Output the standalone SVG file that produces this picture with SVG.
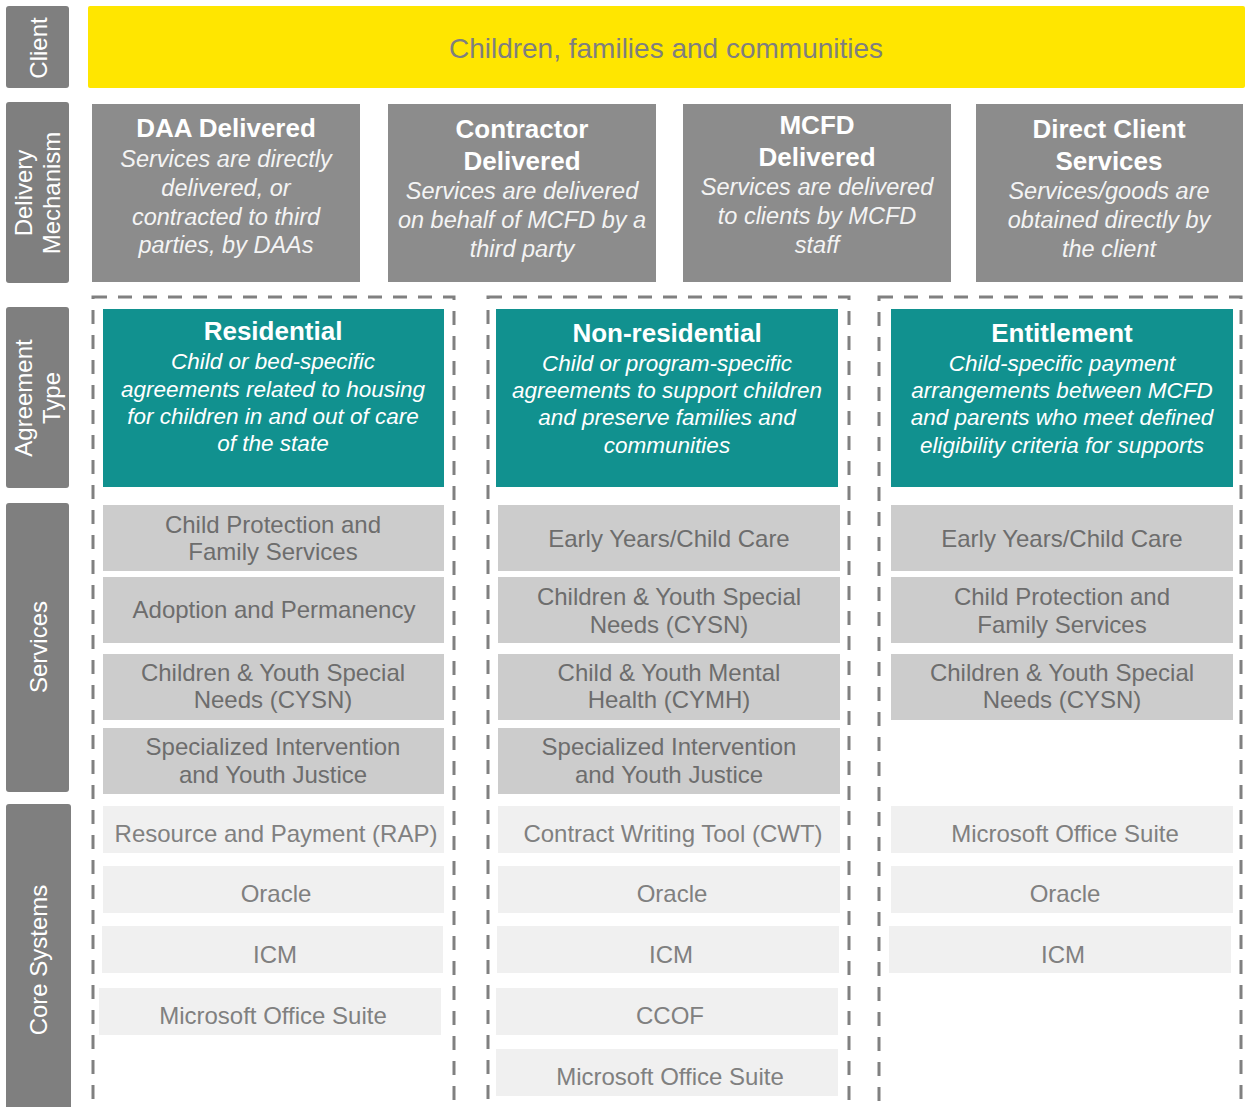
<svg xmlns="http://www.w3.org/2000/svg" width="1248" height="1107" viewBox="0 0 1248 1107">
  <style>
    text { font-family: "Liberation Sans", Arial, sans-serif; text-anchor: middle; }
    .lane { fill: #7f7f7f; }
    .laneText { fill: #ffffff; font-size: 24px; }
    .client { fill: #ffe600; }
    .clientText { fill: #7f7f7f; font-size: 28px; }
    .mech { fill: #8c8c8c; }
    .mechTitle { fill: #ffffff; font-size: 26px; font-weight: bold; }
    .mechDesc { fill: #f4f4f4; font-size: 23.5px; font-style: italic; }
    .group { fill: none; stroke: #808080; stroke-width: 3; stroke-dasharray: 14 11; }
    .agree { fill: #11918f; }
    .agreeTitle { fill: #ffffff; font-size: 26px; font-weight: bold; }
    .agreeDesc { fill: #ffffff; font-size: 22.5px; font-style: italic; }
    .svc { fill: #cccccc; }
    .svcText { fill: #6d6d6d; font-size: 24px; }
    .sys { fill: #f0f0f0; }
    .sysText { fill: #808080; font-size: 24px; }
  </style>

  <!-- Row labels -->
  <g id="lane-client">
    <rect class="lane" x="6" y="6" width="63" height="82" rx="3"/>
    <text class="laneText" transform="translate(47,48) rotate(-90)">Client</text>
  </g>
  <g id="lane-delivery">
    <rect class="lane" x="6" y="102" width="63" height="181" rx="3"/>
    <text class="laneText" transform="translate(32,193) rotate(-90)">Delivery</text>
    <text class="laneText" transform="translate(60,193) rotate(-90)">Mechanism</text>
  </g>
  <g id="lane-agreement">
    <rect class="lane" x="6" y="307" width="63" height="181" rx="3"/>
    <text class="laneText" transform="translate(32,398) rotate(-90)">Agreement</text>
    <text class="laneText" transform="translate(60,398) rotate(-90)">Type</text>
  </g>
  <g id="lane-services">
    <rect class="lane" x="6" y="503" width="63" height="289" rx="3"/>
    <text class="laneText" transform="translate(47,647) rotate(-90)">Services</text>
  </g>
  <g id="lane-systems">
    <rect class="lane" x="6" y="804" width="65" height="310" rx="3"/>
    <text class="laneText" transform="translate(47,960) rotate(-90)">Core Systems</text>
  </g>

  <!-- Client banner -->
  <g id="client">
    <rect class="client" x="88" y="6" width="1157" height="82" rx="2"/>
    <text class="clientText" x="666" y="58">Children, families and communities</text>
  </g>

  <!-- Delivery mechanisms -->
  <g id="mech-daa">
    <rect class="mech" x="92" y="104" width="268" height="178"/>
    <text class="mechTitle" x="226" y="137">DAA Delivered</text>
    <text class="mechDesc" x="226" y="167">Services are directly</text>
    <text class="mechDesc" x="226" y="196">delivered, or</text>
    <text class="mechDesc" x="226" y="225">contracted to third</text>
    <text class="mechDesc" x="226" y="253">parties, by DAAs</text>
  </g>
  <g id="mech-contractor">
    <rect class="mech" x="388" y="104" width="268" height="178"/>
    <text class="mechTitle" x="522" y="138">Contractor</text>
    <text class="mechTitle" x="522" y="170">Delivered</text>
    <text class="mechDesc" x="522" y="199">Services are delivered</text>
    <text class="mechDesc" x="522" y="228">on behalf of MCFD by a</text>
    <text class="mechDesc" x="522" y="257">third party</text>
  </g>
  <g id="mech-mcfd">
    <rect class="mech" x="683" y="104" width="268" height="178"/>
    <text class="mechTitle" x="817" y="134">MCFD</text>
    <text class="mechTitle" x="817" y="166">Delivered</text>
    <text class="mechDesc" x="817" y="195">Services are delivered</text>
    <text class="mechDesc" x="817" y="224">to clients by MCFD</text>
    <text class="mechDesc" x="817" y="253">staff</text>
  </g>
  <g id="mech-direct">
    <rect class="mech" x="976" y="104" width="267" height="178"/>
    <text class="mechTitle" x="1109" y="138">Direct Client</text>
    <text class="mechTitle" x="1109" y="170">Services</text>
    <text class="mechDesc" x="1109" y="199">Services/goods are</text>
    <text class="mechDesc" x="1109" y="228">obtained directly by</text>
    <text class="mechDesc" x="1109" y="257">the client</text>
  </g>

  <!-- Residential column -->
  <g id="col-residential">
    <rect class="group" x="93" y="297" width="361" height="840"/>
    <rect class="agree" x="103" y="309" width="341" height="178"/>
    <text class="agreeTitle" x="273" y="340">Residential</text>
    <text class="agreeDesc" x="273" y="369">Child or bed-specific</text>
    <text class="agreeDesc" x="273" y="397">agreements related to housing</text>
    <text class="agreeDesc" x="273" y="424">for children in and out of care</text>
    <text class="agreeDesc" x="273" y="451">of the state</text>

    <rect class="svc" x="103" y="505" width="341" height="66"/>
    <text class="svcText" x="273" y="533">Child Protection and</text>
    <text class="svcText" x="273" y="560">Family Services</text>
    <rect class="svc" x="103" y="577" width="341" height="66"/>
    <text class="svcText" x="274" y="618">Adoption and Permanency</text>
    <rect class="svc" x="103" y="654" width="341" height="66"/>
    <text class="svcText" x="273" y="681">Children &amp; Youth Special</text>
    <text class="svcText" x="273" y="708">Needs (CYSN)</text>
    <rect class="svc" x="103" y="728" width="341" height="66"/>
    <text class="svcText" x="273" y="755">Specialized Intervention</text>
    <text class="svcText" x="273" y="783">and Youth Justice</text>

    <rect class="sys" x="103" y="806" width="341" height="47"/>
    <text class="sysText" x="276" y="842">Resource and Payment (RAP)</text>
    <rect class="sys" x="103" y="866" width="341" height="47"/>
    <text class="sysText" x="276" y="902">Oracle</text>
    <rect class="sys" x="102" y="926" width="341" height="47"/>
    <text class="sysText" x="275" y="963">ICM</text>
    <rect class="sys" x="99" y="988" width="342" height="47"/>
    <text class="sysText" x="273" y="1024">Microsoft Office Suite</text>
  </g>

  <!-- Non-residential column -->
  <g id="col-nonresidential">
    <rect class="group" x="488" y="297" width="361" height="840"/>
    <rect class="agree" x="496" y="309" width="342" height="178"/>
    <text class="agreeTitle" x="667" y="342">Non-residential</text>
    <text class="agreeDesc" x="667" y="371">Child or program-specific</text>
    <text class="agreeDesc" x="667" y="398">agreements to support children</text>
    <text class="agreeDesc" x="667" y="425">and preserve families and</text>
    <text class="agreeDesc" x="667" y="453">communities</text>

    <rect class="svc" x="498" y="505" width="342" height="66"/>
    <text class="svcText" x="669" y="547">Early Years/Child Care</text>
    <rect class="svc" x="498" y="577" width="342" height="66"/>
    <text class="svcText" x="669" y="605">Children &amp; Youth Special</text>
    <text class="svcText" x="669" y="633">Needs (CYSN)</text>
    <rect class="svc" x="498" y="654" width="342" height="66"/>
    <text class="svcText" x="669" y="681">Child &amp; Youth Mental</text>
    <text class="svcText" x="669" y="708">Health (CYMH)</text>
    <rect class="svc" x="498" y="728" width="342" height="66"/>
    <text class="svcText" x="669" y="755">Specialized Intervention</text>
    <text class="svcText" x="669" y="783">and Youth Justice</text>

    <rect class="sys" x="498" y="806" width="342" height="47"/>
    <text class="sysText" x="673" y="842">Contract Writing Tool (CWT)</text>
    <rect class="sys" x="498" y="866" width="342" height="47"/>
    <text class="sysText" x="672" y="902">Oracle</text>
    <rect class="sys" x="497" y="926" width="342" height="47"/>
    <text class="sysText" x="671" y="963">ICM</text>
    <rect class="sys" x="496" y="988" width="342" height="47"/>
    <text class="sysText" x="670" y="1024">CCOF</text>
    <rect class="sys" x="496" y="1049" width="342" height="47"/>
    <text class="sysText" x="670" y="1085">Microsoft Office Suite</text>
  </g>

  <!-- Entitlement column -->
  <g id="col-entitlement">
    <rect class="group" x="879" y="297" width="362" height="840"/>
    <rect class="agree" x="891" y="309" width="342" height="178"/>
    <text class="agreeTitle" x="1062" y="342">Entitlement</text>
    <text class="agreeDesc" x="1062" y="371">Child-specific payment</text>
    <text class="agreeDesc" x="1062" y="398">arrangements between MCFD</text>
    <text class="agreeDesc" x="1062" y="425">and parents who meet defined</text>
    <text class="agreeDesc" x="1062" y="453">eligibility criteria for supports</text>

    <rect class="svc" x="891" y="505" width="342" height="66"/>
    <text class="svcText" x="1062" y="547">Early Years/Child Care</text>
    <rect class="svc" x="891" y="577" width="342" height="66"/>
    <text class="svcText" x="1062" y="605">Child Protection and</text>
    <text class="svcText" x="1062" y="633">Family Services</text>
    <rect class="svc" x="891" y="654" width="342" height="66"/>
    <text class="svcText" x="1062" y="681">Children &amp; Youth Special</text>
    <text class="svcText" x="1062" y="708">Needs (CYSN)</text>

    <rect class="sys" x="891" y="806" width="342" height="47"/>
    <text class="sysText" x="1065" y="842">Microsoft Office Suite</text>
    <rect class="sys" x="891" y="866" width="342" height="47"/>
    <text class="sysText" x="1065" y="902">Oracle</text>
    <rect class="sys" x="889" y="926" width="342" height="47"/>
    <text class="sysText" x="1063" y="963">ICM</text>
  </g>
</svg>
